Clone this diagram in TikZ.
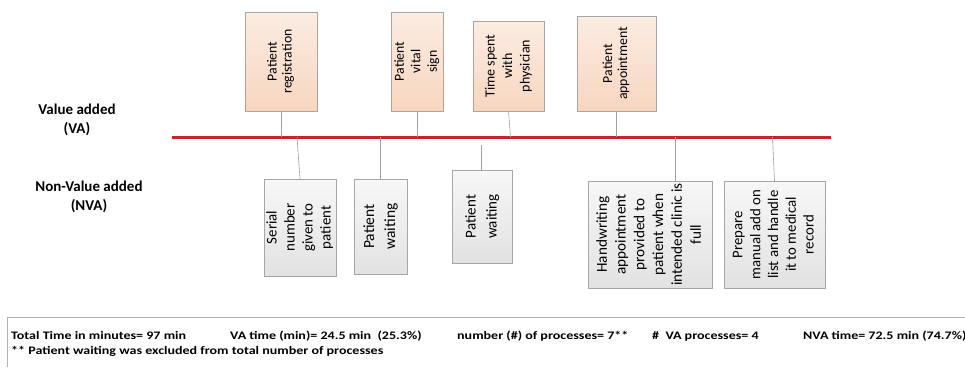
\documentclass[tikz,border=0pt]{standalone}
\usepackage{fontspec}
\setmainfont{Carlito}
\usepackage{graphicx}
\usetikzlibrary{positioning,calc}
\definecolor{vapeach}{RGB}{247,214,192}
\definecolor{vapeachtop}{RGB}{252,236,226}
\definecolor{nvagray}{RGB}{226,226,226}
\definecolor{nvagraytop}{RGB}{247,247,247}
\definecolor{boxline}{RGB}{166,166,166}
\definecolor{axisred}{RGB}{200,35,43}
\definecolor{panelblue}{RGB}{160,180,222}
\newcommand{\vtext}[1]{\rotatebox{90}{\begin{tabular}{@{}c@{}}#1\end{tabular}}}
\newcommand{\widestat}[1]{\scalebox{1.22}[1]{#1}}

\begin{document}
\begin{tikzpicture}[x=1pt,y=-1pt,font=\fontsize{12}{14.5}\selectfont,
 vabox/.style={draw=boxline,top color=vapeachtop,bottom color=vapeach,inner sep=0pt},
 nvabox/.style={draw=boxline,top color=nvagraytop,bottom color=nvagray,inner sep=0pt},
 boxfont/.style 2 args={font=\fontsize{#1}{#2}\selectfont},
 conn/.style={draw=gray!75,line width=0.6pt},
 sidelbl/.style={font=\fontsize{15}{19}\selectfont\bfseries,align=center},
 stat/.style={anchor=base west,inner sep=0pt,font=\fontsize{11.5}{13}\selectfont\bfseries}]
\useasboundingbox (0,0) rectangle (965,367);
% time line
\coordinate (va0) at (172,137);
\coordinate (va1) at (831,137);
\draw[axisred,line width=3pt] (va0)--(va1);
\node[sidelbl] (valbl) at (77,120) {Value added\\(VA)};
\node[sidelbl] (nvalbl) at (89,197) {Non-Value added\\(NVA)};
% value added steps
\node[vabox,boxfont={13.8}{15},minimum width=72,minimum height=99] (reg) at (281,61.5) {\vtext{Patient\\registration}};
\node[vabox,boxfont={13.8}{16.5},minimum width=52,minimum height=99] (vital) at (417,61.5) {\vtext{Patient\\vital\\sign}};
\node[vabox,boxfont={14}{17.5},minimum width=71,minimum height=90] (phys) at (508.5,66) {\vtext{Time spent\\with\\physician}};
\node[vabox,boxfont={13.8}{15},minimum width=79,minimum height=95] (appt) at (616.5,63.5) {\vtext{Patient\\appointment}};
\draw[conn] (reg.south)--(reg.south |- va0);
\draw[conn] (vital.south)--(vital.south |- va0);
\draw[conn] (phys.south)--($(phys.south |- va0)+(2,0)$);
\draw[conn] (appt.south)--(appt.south |- va0);
% non value added steps
\node[nvabox,boxfont={14.9}{18},minimum width=70,minimum height=97] (serial) at (300,227.5) {\vtext{Serial\\number\\given to\\patient}};
\node[nvabox,boxfont={15.5}{21},minimum width=53,minimum height=95] (wait1) at (380.5,226.5) {\vtext{Patient\\waiting}};
\node[nvabox,boxfont={15}{21},minimum width=60,minimum height=93] (wait2) at (482,216.5) {\vtext{Patient\\waiting}};
\node[nvabox,boxfont={15.2}{18.8},minimum width=124,minimum height=107] (hand) at (650,234.5) {\vtext{Handwriting\\appointment\\provided to\\patient when\\intended clinic is\\full}};
\node[nvabox,boxfont={14.8}{17.8},minimum width=101,minimum height=107] (prep) at (774.5,234.5) {\vtext{Prepare\\manual add on\\list and handle\\it to medical\\record}};
\coordinate (w2top) at (481,145);
\coordinate (h1) at (675,137);
\draw[conn] ($(serial.north |- va0)+(-3,0)$)--(serial.north);
\draw[conn] (wait1.north |- va0)--(wait1.north);
\draw[conn] (w2top)--(w2top |- wait2.north);
\draw[conn] (h1)--(h1 |- hand.north);
\draw[conn] ($(prep.north |- va0)+(-2,0)$)--(prep.north);
% summary
\draw[panelblue,line width=0.8pt] (7,367)--(7,317)--(965,317);
\node[stat] (total) at (11,339) {\widestat{Total Time in minutes= 97 min}};
\node[stat] (vatime) at (230,339) {\widestat{VA time (min)= 24.5 min\ \ (25.3\%)}};
\node[stat] (nproc) at (457,339) {\widestat{number (\#) of processes= 7**}};
\node[stat] (vaproc) at (652,339) {\widestat{\#\ \ VA processes= 4}};
\node[stat] (nvatime) at (803,339) {\widestat{NVA time= 72.5 min (74.7\%)}};
\node[stat] (note) at (11,354) {\widestat{** Patient waiting was excluded from total number of processes}};
\end{tikzpicture}
\end{document}
